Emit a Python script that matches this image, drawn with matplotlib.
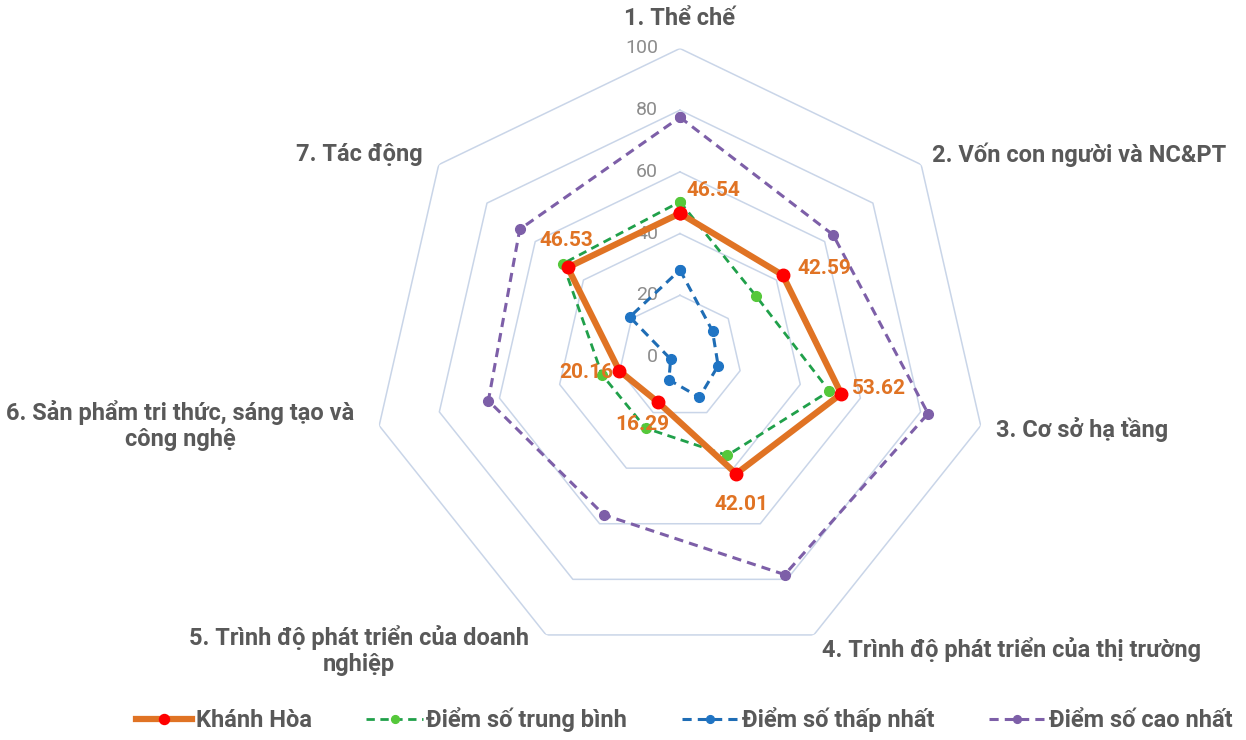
import numpy as np
import matplotlib
matplotlib.use("Agg")
import matplotlib.pyplot as plt

plt.rcParams['font.family'] = ['Roboto', 'DejaVu Sans']

# pillar names (axis labels)
categories = [
    "1. Thể chế",
    "2. Vốn con người và NC&PT",
    "3. Cơ sở hạ tầng",
    "4. Trình độ phát triển của thị trường",
    "5. Trình độ phát triển của doanh\nnghiệp",
    "6. Sản phẩm tri thức, sáng tạo và\ncông nghệ",
    "7. Tác động",
]

khanh_hoa = [46.54, 42.59, 53.62, 42.01, 16.29, 20.16, 46.53]
avg_score = [50.3, 31.6, 49.7, 35.4, 25.6, 25.9, 48.5]
min_score = [28.2, 13.5, 12.7, 14.5, 8.2, 3.1, 20.8]
max_score = [77.7, 63.5, 82.5, 78.3, 56.8, 63.7, 66.4]

ring_ticks = [0, 20, 40, 60, 80, 100]

series_names = ["Khánh Hòa", "Điểm số trung bình", "Điểm số thấp nhất", "Điểm số cao nhất"]

n = len(categories)
angles = np.linspace(0, 2 * np.pi, n, endpoint=False)
ang_c = np.append(angles, angles[0])


def closed(vals):
    return np.append(vals, vals[0])


fig = plt.figure(figsize=(12.46, 7.40), dpi=100)
ax = fig.add_axes([0.2981, 0.1007, 0.4952, 0.8338], projection='polar')
ax.set_theta_zero_location('N')
ax.set_theta_direction(-1)
ax.set_ylim(0, 100)
ax.set_axis_off()

# heptagon grid
for r in ring_ticks[1:]:
    ax.plot(ang_c, [r] * (n + 1), color='#C9D5E8', lw=1.1, zorder=1)

# radial tick labels
for r in ring_ticks:
    ax.annotate(str(r), xy=(0, r), xytext=(-22, 0), textcoords='offset pixels',
                ha='right', va='center', fontsize=14, color='#8C8C8C', zorder=2)

# series
l_max, = ax.plot(ang_c, closed(max_score), ls=(0, (3, 2)), color='#7D5FA8', lw=2.2,
                 marker='o', ms=7, mfc='#7D5FA8', mec='#7D5FA8', zorder=3,
                 label=series_names[3])
l_min, = ax.plot(ang_c, closed(min_score), ls=(0, (3, 2)), color='#1F6DB5', lw=2.2,
                 marker='o', ms=7, mfc='#1F74C4', mec='#1F74C4', zorder=3,
                 label=series_names[2])
l_avg, = ax.plot(ang_c, closed(avg_score), ls=(0, (3, 2)), color='#20A04A', lw=2.0,
                 marker='o', ms=7, mfc='#55C83A', mec='#55C83A', zorder=4,
                 label=series_names[1])
l_kh, = ax.plot(ang_c, closed(khanh_hoa), ls='-', color='#E07324', lw=4.5,
                marker='o', ms=9, mfc='#FF0000', mec='#FF0000', zorder=5,
                label=series_names[0])

# data labels for Khánh Hòa
label_offsets = [(33, 23), (15, 7), (11, 5), (5, -31), (-16, -22), (-33, -2), (-1, 27)]
label_ha = ['center', 'left', 'left', 'center', 'center', 'center', 'center']
for a, v, off, ha in zip(angles, khanh_hoa, label_offsets, label_ha):
    ax.annotate(f"{v:.2f}", xy=(a, v), xytext=off, textcoords='offset pixels',
                ha=ha, va='center', fontsize=15, fontweight='bold', color='#E07324',
                zorder=6)

# category labels
cat_offsets = [(0, 30), (11, 10), (15, -4), (8, -15), (-6, 10), (-17, 0), (-16, 10)]
cat_ha = ['center', 'left', 'left', 'left', 'center', 'center', 'right']
cat_va = ['center', 'center', 'center', 'center', 'top', 'center', 'center']
cat_shift = [0, 0, 0, 0, -181, -182, 0]
for a, name, off, ha, va, sh in zip(angles, categories, cat_offsets, cat_ha, cat_va, cat_shift):
    ax.annotate(name, xy=(a, 100), xytext=(off[0] + sh, off[1]),
                textcoords='offset pixels', ha=ha, va=va, multialignment='center',
                fontsize=17, fontweight='bold', color='#595959',
                linespacing=1.15, annotation_clip=False)

fig.legend(handles=[l_kh, l_avg, l_min, l_max], loc='center',
           bbox_to_anchor=(0.549, 0.028), ncol=4, frameon=False,
           prop={'size': 17, 'weight': 'bold'}, labelcolor='#595959',
           handlelength=2.4, columnspacing=2.3, handletextpad=0.15, markerscale=0.8)

fig.savefig('out.png', dpi=100)
